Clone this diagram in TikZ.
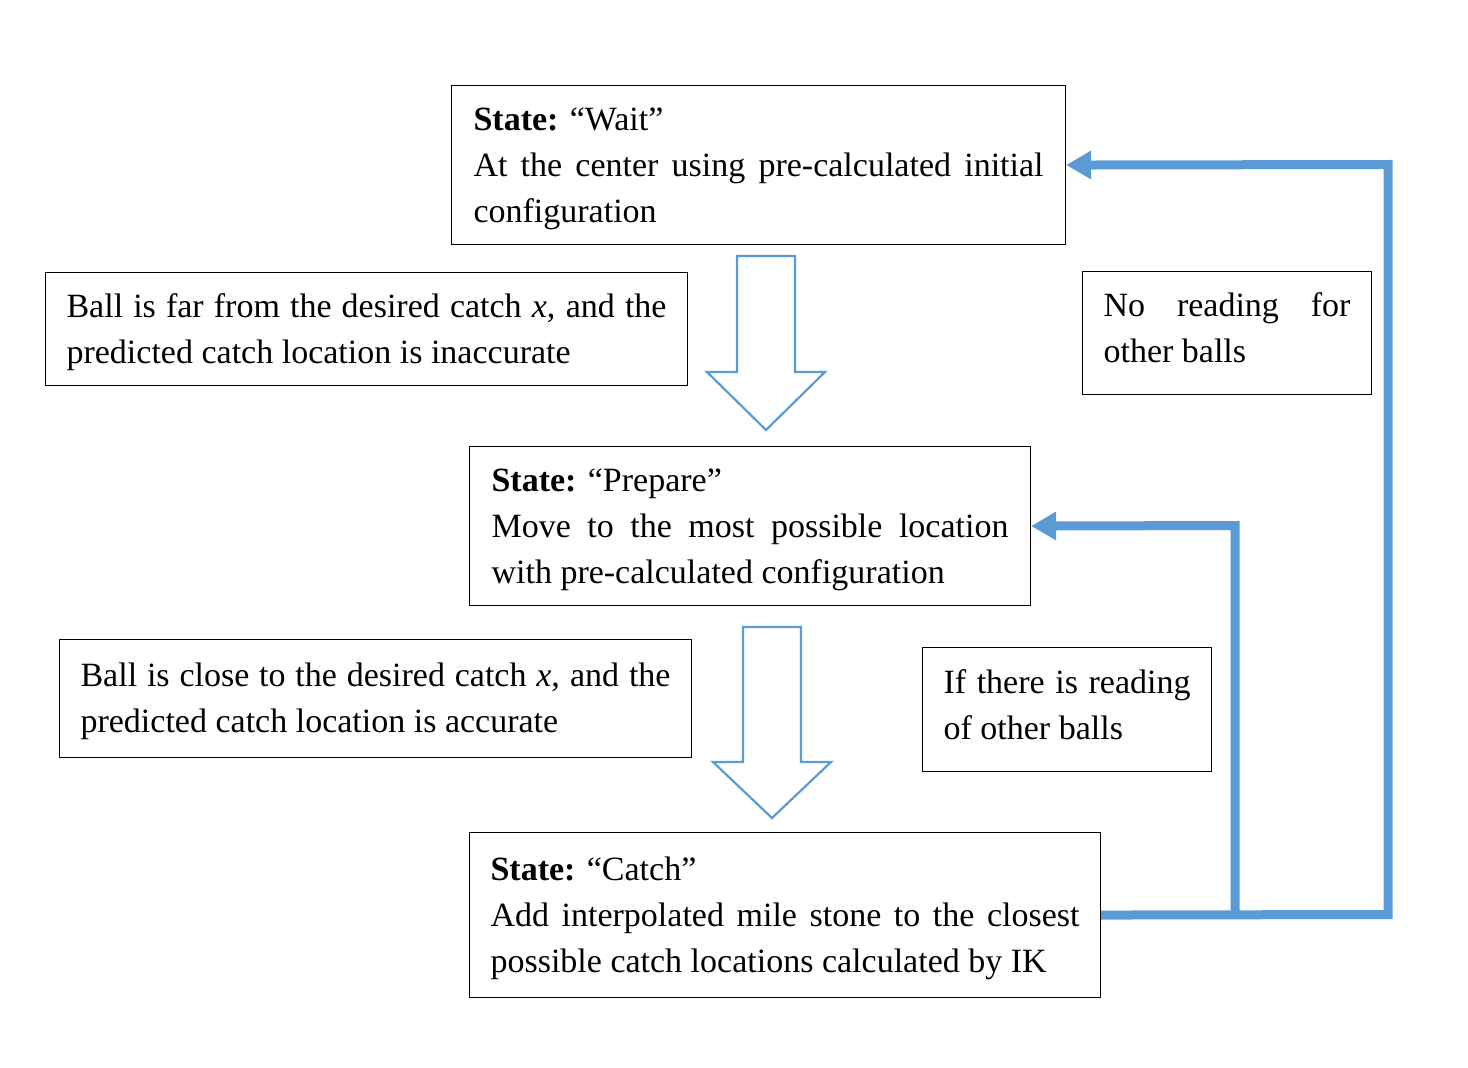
\documentclass[tikz,border=0pt]{standalone}
\usepackage{fontspec}
\setmainfont{Liberation Serif}
\usetikzlibrary{arrows.meta}
\definecolor{flowblue}{RGB}{91,155,213}
\newcommand{\topgap}{\rule{0pt}{29.5pt}}
\newcommand{\botgap}{\rule[-11pt]{0pt}{0pt}}
\tikzset{
  box/.style={draw=black, line width=1.1pt, anchor=north west, align=justify, inner ysep=0pt,
    font=\fontsize{34}{46}\selectfont},
  feedback/.style={draw=flowblue, line width=9pt, line join=miter, -{Triangle[length=25pt,width=27pt]}},
  hollow/.style={draw=flowblue, line width=2.2pt, fill=white, line join=miter}
}
\begin{document}
\begin{tikzpicture}[x=1pt,y=-1pt]
\useasboundingbox (0,0) rectangle (1468,1068);

\node[box, text width=570pt, inner xsep=22pt, minimum height=159pt] (wait) at (451,85)
  {\topgap\textbf{State:} “Wait”\newline At the center using pre-calculated initial\linebreak configuration\par};
\node[box, text width=600pt, inner xsep=21pt, minimum height=113pt] (cond1) at (45,272)
  {\topgap Ball is far from the desired catch \textit{x}, and the\linebreak predicted catch location is inaccurate\par};
\node[box, text width=247pt, inner xsep=21pt, minimum height=123pt] (noread) at (1082,271)
  {No reading for\linebreak other balls\botgap\par};
\node[box, text width=517pt, inner xsep=22pt, minimum height=159pt] (prep) at (469,446)
  {\topgap\textbf{State:} “Prepare”\newline Move to the most possible location\linebreak with pre-calculated configuration\par};
\node[box, text width=590pt, inner xsep=21pt, minimum height=118pt] (cond2) at (59,639)
  {\topgap Ball is close to the desired catch \textit{x}, and the\linebreak predicted catch location is accurate\par};
\node[box, text width=247pt, inner xsep=21pt, minimum height=124pt] (other) at (922,647)
  {If there is reading\linebreak of other balls\botgap\par};
\node[box, text width=589pt, inner xsep=21pt, minimum height=165pt] (catch) at (469,832)
  {\topgap\textbf{State:} “Catch”\newline Add interpolated mile stone to the closest\linebreak possible catch locations calculated by IK\par};

% hollow block arrows
\draw[hollow] (737,256) -- (795,256) -- (795,372) -- (825,372) -- (766,430) -- (707,372) -- (737,372) -- cycle;
\draw[hollow] (743,627) -- (801,627) -- (801,762) -- (831,762) -- (772,818) -- (713,762) -- (743,762) -- cycle;

% feedback connectors
\coordinate (cornerlow) at (1388,914.5);
\coordinate (corneroutup) at (1388,164.5);
\coordinate (branchlow) at (1235,914.5);
\coordinate (branchup) at (1235,525.5);
\draw[feedback] (catch.east) -- (cornerlow) -- (corneroutup) -- (wait.east);
\draw[feedback] (branchlow) -- (branchup) -- (prep.east);
\end{tikzpicture}
\end{document}
